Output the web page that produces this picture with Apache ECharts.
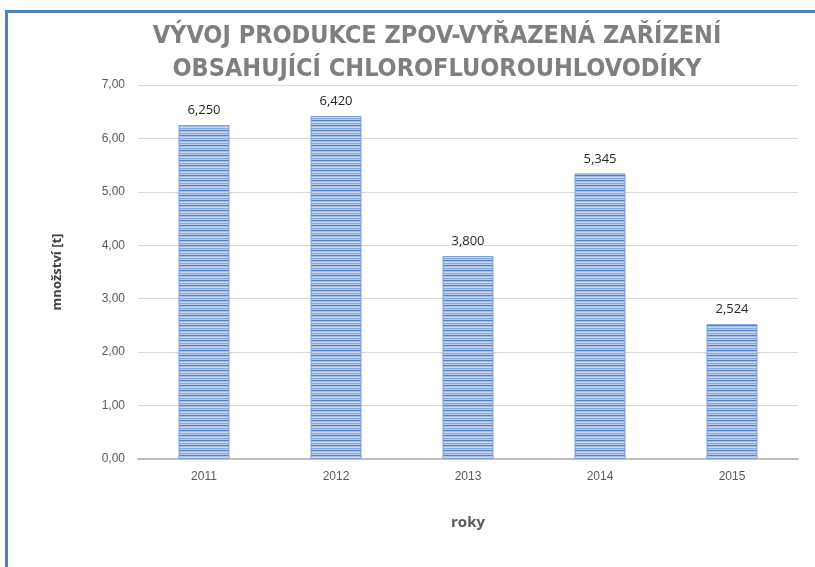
<!DOCTYPE html>
<html>
<head>
<meta charset="utf-8">
<script src="https://cdn.jsdelivr.net/npm/echarts@6/dist/echarts.min.js"></script>
<style>
  html, body { margin: 0; padding: 0; background: #fff; }
  #chart { width: 815px; height: 567px; }
</style>
</head>
<body>
<div id="chart"></div>
<script>
const years = ['2011', '2012', '2013', '2014', '2015']
const amounts = [6.25, 6.42, 3.8, 5.345, 2.524]
const yTicks = { min: 0, max: 7, interval: 1 }

// horizontal stripe fill like the original bars
function stripePattern() {
  const c = document.createElement('canvas')
  c.width = 4
  c.height = 5
  const ctx = c.getContext('2d')
  const rows = ['#5080c6', '#a9c0e4', '#c9d7ee', '#86a8da', '#b7cbea']
  rows.forEach((col, i) => {
    ctx.fillStyle = col
    ctx.fillRect(0, i, 4, 1)
  })
  return { image: c, repeat: 'repeat' }
}

const comma = (v, d) => v.toFixed(d).replace('.', ',')

const chart = echarts.init(document.getElementById('chart'), null, { renderer: 'canvas' })

chart.setOption({
  backgroundColor: '#fff',
  animation: false,
  title: {
    text: 'VÝVOJ PRODUKCE ZPOV-VYŘAZENÁ ZAŘÍZENÍ\nOBSAHUJÍCÍ CHLOROFLUOROUHLOVODÍKY',
    left: 432,
    top: 15,
    textAlign: 'center',
    textStyle: {
      color: '#7f7f7f',
      fontFamily: 'Liberation Sans Narrow, DejaVu Sans Condensed, sans-serif',
      fontWeight: 'bold',
      fontSize: 25,
      lineHeight: 33
    }
  },
  graphic: [
    { type: 'rect', shape: { x: 5, y: 10, width: 815, height: 3 }, style: { fill: '#4f81bd' } },
    { type: 'rect', shape: { x: 5, y: 10, width: 3, height: 567 }, style: { fill: '#4f81bd' } }
  ],
  grid: { left: 138, right: 17, top: 85, bottom: 108 },
  xAxis: {
    type: 'category',
    data: years,
    name: 'roky',
    nameLocation: 'middle',
    nameGap: 56,
    nameTextStyle: { color: '#595959', fontSize: 15, fontWeight: 'bold', fontFamily: 'Open Sans, sans-serif' },
    axisLine: { lineStyle: { color: '#bfbfbf', width: 2 } },
    axisTick: { show: false },
    axisLabel: { color: '#595959', fontSize: 12, margin: 12, fontFamily: 'Liberation Sans, sans-serif' }
  },
  yAxis: {
    type: 'value',
    min: yTicks.min,
    max: yTicks.max,
    interval: yTicks.interval,
    name: 'množství [t]',
    nameLocation: 'middle',
    nameGap: 74,
    nameRotate: 90,
    nameTextStyle: { color: '#404040', fontSize: 13, fontWeight: 'bold', fontFamily: 'Open Sans, sans-serif' },
    axisLine: { show: false },
    axisTick: { show: false },
    splitLine: { lineStyle: { color: '#d9d9d9', width: 1 } },
    axisLabel: {
      color: '#595959',
      fontSize: 12,
      margin: 13,
      fontFamily: 'Liberation Sans, sans-serif',
      formatter: (v) => comma(v, 2)
    }
  },
  series: [
    {
      type: 'bar',
      data: amounts,
      barWidth: 51,
      itemStyle: { color: stripePattern(), borderColor: '#7b9fd4', borderWidth: 1 },
      label: {
        show: true,
        position: 'top',
        distance: 8,
        color: '#262626',
        fontSize: 13,
        fontFamily: 'Open Sans, sans-serif',
        formatter: (p) => comma(p.value, 3)
      }
    }
  ]
})
</script>
</body>
</html>
